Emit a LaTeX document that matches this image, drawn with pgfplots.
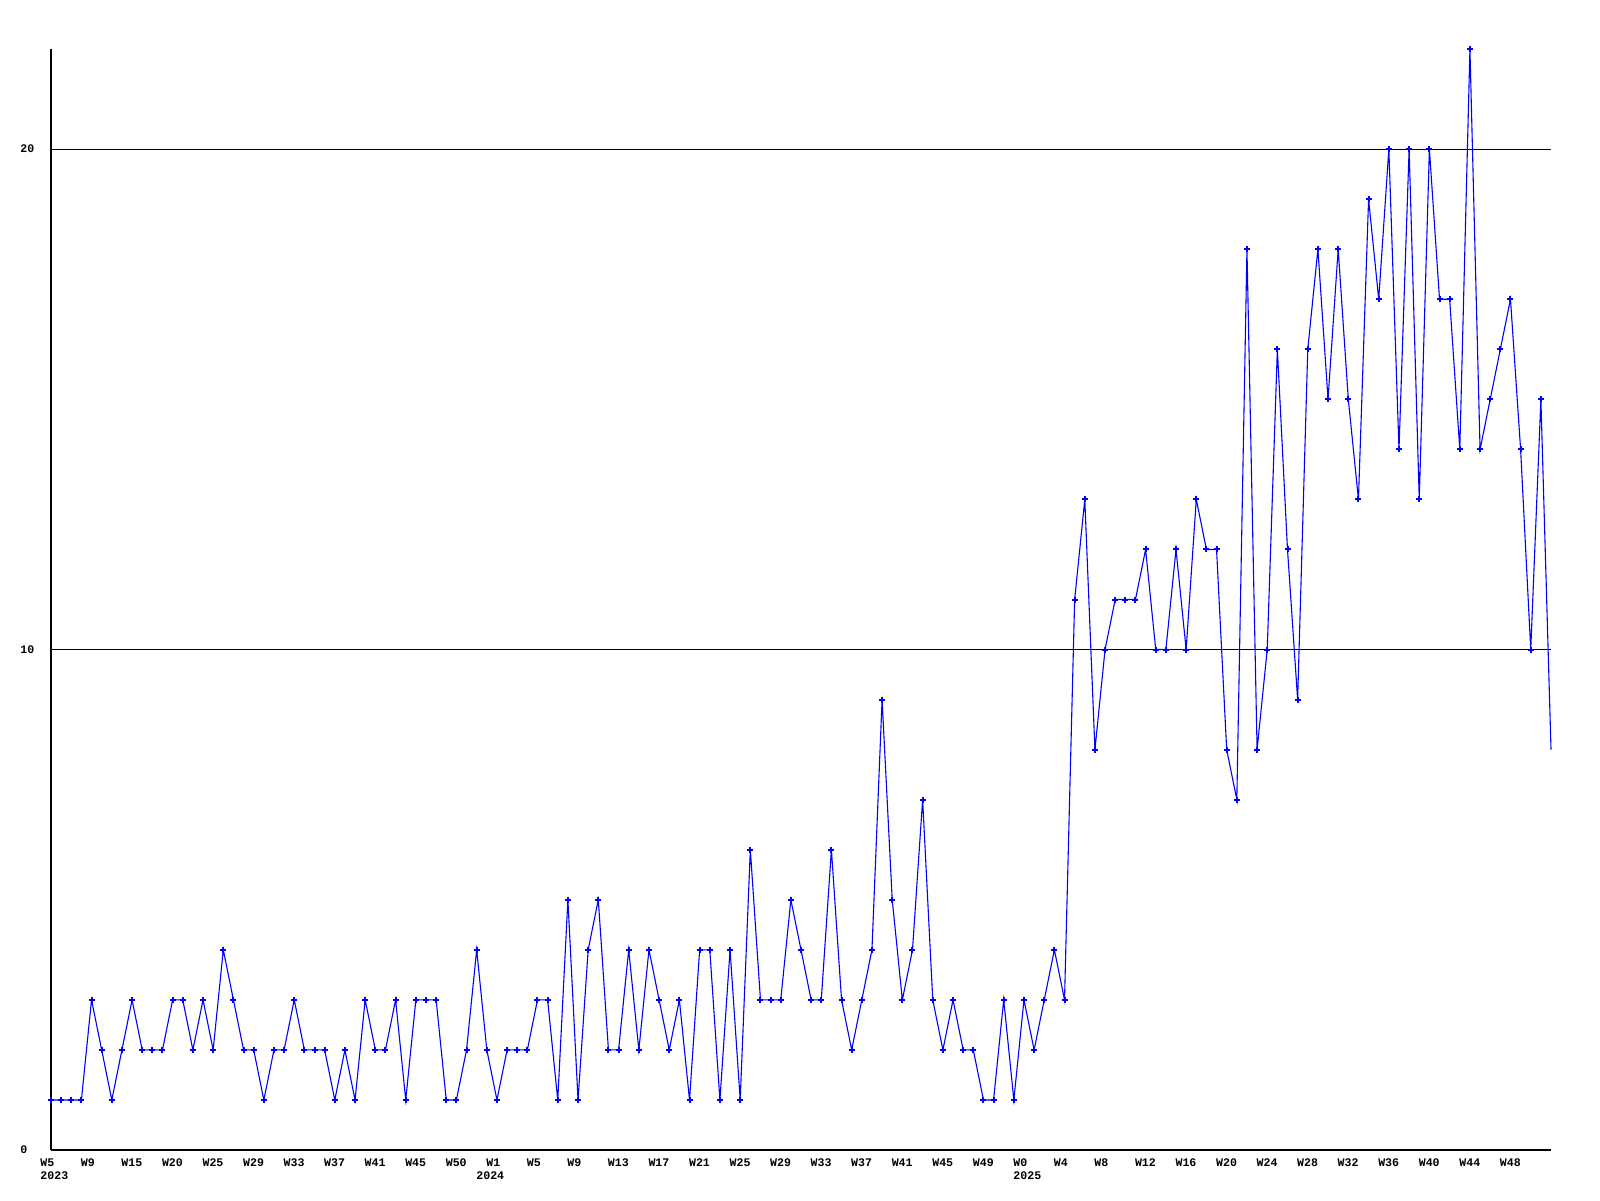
\documentclass[border=0pt]{standalone}
\usepackage{fontspec}
\setmainfont{Liberation Mono}
\usepackage{pgfplots}
\pgfplotsset{compat=1.18}
\begin{document}
\begin{tikzpicture}
\begin{axis}[
  scale only axis,
  width=750pt, height=550.5pt,
  xmin=0, xmax=148, ymin=0, ymax=22,
  axis x line*=bottom, axis y line*=left,
  axis line style={black, line width=0.6pt},
  clip=false,
  ytick={0,10,20}, yticklabels={0,10,20},
  ymajorgrids, grid style={black, line width=0.5pt},
  major tick length=0pt,
  xtick={0,4,...,144},
  xticklabels={{W5\\2023},W9,W15,W20,W25,W29,W33,W37,W41,W45,W50,{W1\\\hspace*{-5pt}2024},W5,W9,W13,W17,W21,W25,W29,W33,W37,W41,W45,W49,{W0\\2025},W4,W8,W12,W16,W20,W24,W28,W32,W36,W40,W44,W48},
  xticklabel style={anchor=north west, inner sep=0pt, xshift=-5.5pt, yshift=-4pt, align=left, font=\bfseries\fontsize{5.8}{6.8}\selectfont},
  yticklabel style={anchor=west, inner sep=0pt, xshift=-15.5pt, font=\bfseries\fontsize{5.8}{6.8}\selectfont},
]
\addplot[blue, line width=0.55pt, mark=+, mark size=1.5pt, mark options={line width=1pt}, mark indices={1,...,148}] coordinates {
(0,1)(1,1)(2,1)(3,1)(4,3)(5,2)(6,1)(7,2)(8,3)(9,2)
(10,2)(11,2)(12,3)(13,3)(14,2)(15,3)(16,2)(17,4)(18,3)(19,2)
(20,2)(21,1)(22,2)(23,2)(24,3)(25,2)(26,2)(27,2)(28,1)(29,2)
(30,1)(31,3)(32,2)(33,2)(34,3)(35,1)(36,3)(37,3)(38,3)(39,1)
(40,1)(41,2)(42,4)(43,2)(44,1)(45,2)(46,2)(47,2)(48,3)(49,3)
(50,1)(51,5)(52,1)(53,4)(54,5)(55,2)(56,2)(57,4)(58,2)(59,4)
(60,3)(61,2)(62,3)(63,1)(64,4)(65,4)(66,1)(67,4)(68,1)(69,6)
(70,3)(71,3)(72,3)(73,5)(74,4)(75,3)(76,3)(77,6)(78,3)(79,2)
(80,3)(81,4)(82,9)(83,5)(84,3)(85,4)(86,7)(87,3)(88,2)(89,3)
(90,2)(91,2)(92,1)(93,1)(94,3)(95,1)(96,3)(97,2)(98,3)(99,4)
(100,3)(101,11)(102,13)(103,8)(104,10)(105,11)(106,11)(107,11)(108,12)(109,10)
(110,10)(111,12)(112,10)(113,13)(114,12)(115,12)(116,8)(117,7)(118,18)(119,8)
(120,10)(121,16)(122,12)(123,9)(124,16)(125,18)(126,15)(127,18)(128,15)(129,13)
(130,19)(131,17)(132,20)(133,14)(134,20)(135,13)(136,20)(137,17)(138,17)(139,14)
(140,22)(141,14)(142,15)(143,16)(144,17)(145,14)(146,10)(147,15)(148,8)
};
\end{axis}
\pgfresetboundingbox
\path[use as bounding box] ([shift={(-25.5pt,-25pt)}]current axis.south west) rectangle ([shift={(24.5pt,24.5pt)}]current axis.north east);
\end{tikzpicture}
\end{document}
